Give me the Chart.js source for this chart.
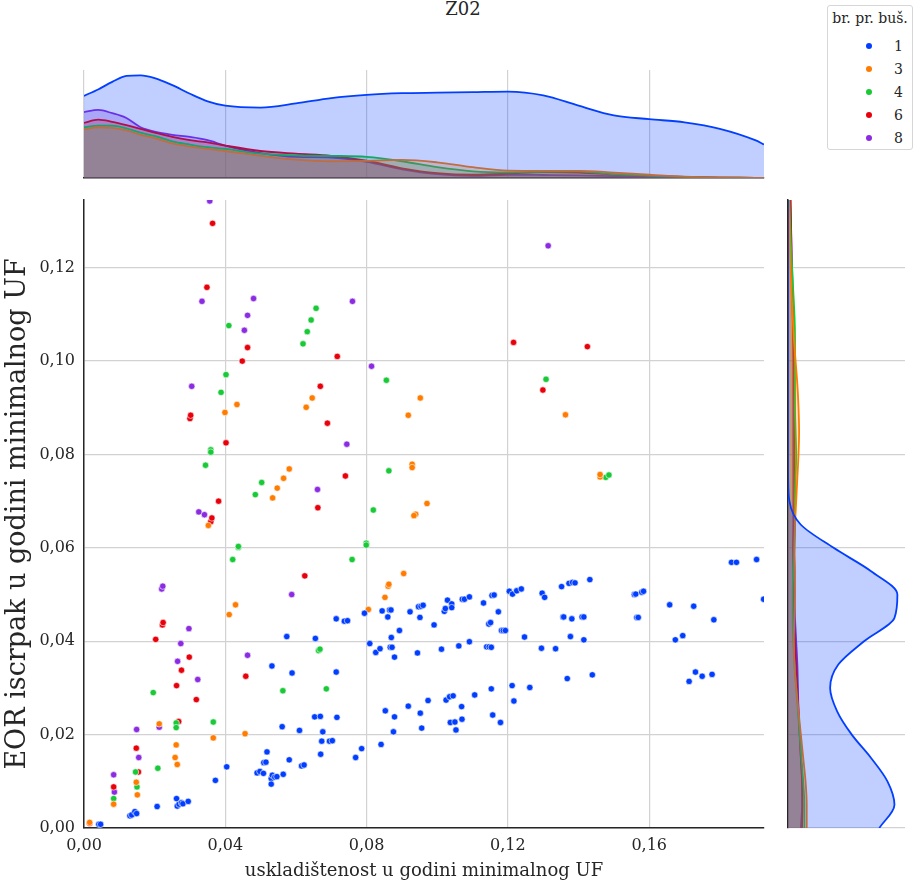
<!DOCTYPE html>
<html lang="hr">
<head>
<meta charset="UTF-8">
<title>Z02</title>
<script src="https://cdn.jsdelivr.net/npm/chart.js"></script>
<style>
  body { margin: 0; background: #fff; font-family: 'DejaVu Serif', serif; color: #262626; }
  .page { position: relative; width: 921px; height: 887px; overflow: hidden; }
  .box { position: absolute; }
  #title { position: absolute; left: 413px; width: 100px; top: 0; line-height: 18px; text-align: center; font-size: 18px; }
  .legend { position: absolute; left: 827px; top: 5px; width: 84px; height: 143px; border: 1px solid #d6d6d6; border-radius: 3px; background: #fff; font-size: 14px; }
  .legend .lt { position: absolute; left: 0; width: 84px; top: 4px; text-align: center; white-space: nowrap; }
  .legend .dot { position: absolute; width: 6px; height: 6px; border-radius: 50%; left: 38px; }
  .legend .lab { position: absolute; left: 66px; line-height: 16px; }
</style>
</head>
<body>
<div class="page">
  <div id="title">Z02</div>
  <div class="box" style="left:0;top:60px;width:775px;height:120px"><canvas id="topKde"></canvas></div>
  <div class="box" style="left:0;top:190px;width:775px;height:697px"><canvas id="main"></canvas></div>
  <div class="box" style="left:780px;top:190px;width:141px;height:697px"><canvas id="rightKde"></canvas></div>
  <div class="legend" id="legend"><div class="lt">br. pr. buš.</div></div>
</div>

<script>
  // --- podaci ---
  const groupNames = ['1', '3', '4', '6', '8'];
  const groupColors = ['#023eff', '#ff7c00', '#1ac938', '#e8000b', '#8b2be2'];

  // [uskladištenost, EOR iscrpak]
  const pts1 = [
    [0.0042,0.0008],[0.0047,0.0008],[0.0130,0.0026],[0.0135,0.0028],[0.0144,0.0035],[0.0149,0.0031],
    [0.0207,0.0046],[0.0262,0.0063],[0.0264,0.0047],[0.0269,0.0051],[0.0276,0.0054],[0.0280,0.0052],[0.0295,0.0057],
    [0.0372,0.0102],[0.0404,0.0131],[0.0490,0.0118],[0.0498,0.0121],[0.0508,0.0117],[0.0509,0.0140],[0.0515,0.0141],[0.0518,0.0163],
    [0.0530,0.0106],[0.0530,0.0094],[0.0533,0.0113],[0.0540,0.0109],[0.0546,0.0110],[0.0564,0.0115],
    [0.0581,0.0146],[0.0616,0.0133],[0.0623,0.0135],[0.0670,0.0158],[0.0673,0.0186],[0.0695,0.0186],[0.0703,0.0187],
    [0.0769,0.0151],[0.0786,0.0170],[0.0841,0.0179],[0.0561,0.0217],[0.0610,0.0209],[0.0676,0.0206],
    [0.0653,0.0238],[0.0669,0.0239],[0.0716,0.0237],[0.0876,0.0206],[0.0956,0.0214],[0.0952,0.0246],[0.0879,0.0238],
    [0.0853,0.0251],[0.0918,0.0261],[0.0974,0.0273],[0.1025,0.0274],[0.1035,0.0281],[0.1045,0.0283],[0.1069,0.0260],
    [0.1106,0.0285],[0.1153,0.0298],[0.1212,0.0305],[0.1217,0.0272],[0.1262,0.0301],[0.1368,0.0320],[0.1439,0.0328],
    [0.1037,0.0226],[0.1050,0.0227],[0.1070,0.0233],[0.1053,0.0210],[0.1157,0.0242],[0.1179,0.0226],
    [0.1713,0.0314],[0.1731,0.0334],[0.1750,0.0325],[0.1778,0.0329],[0.0532,0.0347],[0.0589,0.0332],[0.0714,0.0334],
    [0.0574,0.0410],[0.0655,0.0406],[0.0714,0.0448],[0.0737,0.0443],[0.0746,0.0444],[0.0794,0.0460],
    [0.0809,0.0395],[0.0826,0.0376],[0.0838,0.0384],[0.0867,0.0387],[0.0872,0.0387],[0.0879,0.0366],[0.0870,0.0408],
    [0.0893,0.0423],[0.0944,0.0375],[0.0844,0.0465],[0.0860,0.0452],[0.0865,0.0467],[0.0869,0.0467],[0.0923,0.0463],
    [0.0947,0.0474],[0.0954,0.0475],[0.0960,0.0477],[0.0951,0.0451],[0.0991,0.0435],[0.1012,0.0383],[0.1061,0.0390],
    [0.1091,0.0399],[0.1140,0.0388],[0.1147,0.0388],[0.1153,0.0387],[0.1020,0.0464],[0.1023,0.0470],[0.1029,0.0488],
    [0.1041,0.0480],[0.1041,0.0472],[0.1071,0.0490],[0.1077,0.0490],[0.1091,0.0495],[0.1131,0.0482],[0.1155,0.0498],
    [0.1161,0.0499],[0.1173,0.0463],[0.1146,0.0437],[0.1151,0.0440],[0.1182,0.0423],[0.1187,0.0423],[0.1193,0.0423],
    [0.1247,0.0409],[0.1204,0.0507],[0.1213,0.0501],[0.1225,0.0508],[0.1238,0.0512],[0.1295,0.0385],[0.1335,0.0384],
    [0.1297,0.0503],[0.1304,0.0494],[0.1352,0.0517],[0.1373,0.0524],[0.1383,0.0526],[0.1390,0.0525],[0.1432,0.0532],
    [0.1356,0.0452],[0.1358,0.0452],[0.1381,0.0448],[0.1410,0.0452],[0.1415,0.0452],[0.1377,0.0410],[0.1415,0.0403],
    [0.1558,0.0500],[0.1562,0.0501],[0.1579,0.0505],[0.1584,0.0507],[0.1565,0.0451],[0.1569,0.0451],
    [0.1658,0.0478],[0.1726,0.0475],[0.1783,0.0446],[0.1674,0.0403],[0.1695,0.0412],
    [0.1833,0.0569],[0.1847,0.0569],[0.1904,0.0575],[0.1924,0.0490]
  ];
  const pts3 = [
    [0.0016,0.0012],[0.0084,0.0051],[0.0148,0.0098],[0.0151,0.0071],[0.0213,0.0223],[0.0261,0.0178],[0.0258,0.0151],
    [0.0264,0.0136],[0.0366,0.0193],[0.0456,0.0202],[0.0411,0.0457],[0.0429,0.0478],[0.0352,0.0648],[0.0399,0.0890],
    [0.0433,0.0907],[0.0534,0.0707],[0.0547,0.0728],[0.0565,0.0749],[0.0581,0.0769],[0.0629,0.0901],[0.0646,0.0921],
    [0.0805,0.0468],[0.0852,0.0494],[0.0861,0.0518],[0.0863,0.0522],[0.0905,0.0545],[0.0918,0.0884],[0.0952,0.0921],
    [0.0929,0.0779],[0.0929,0.0772],[0.0971,0.0695],[0.0939,0.0672],[0.0934,0.0669],[0.1363,0.0885],[0.1461,0.0752],[0.1461,0.0757]
  ];
  const pts4 = [
    [0.0084,0.0063],[0.0150,0.0088],[0.0146,0.0120],[0.0209,0.0128],[0.0196,0.0290],[0.0261,0.0225],[0.0261,0.0215],
    [0.0366,0.0227],[0.0421,0.0575],[0.0437,0.0601],[0.0437,0.0603],[0.0344,0.0777],[0.0359,0.0810],[0.0359,0.0805],
    [0.0388,0.0933],[0.0402,0.0971],[0.0410,0.1076],[0.0485,0.0714],[0.0503,0.0740],[0.0563,0.0294],[0.0664,0.0380],
    [0.0668,0.0383],[0.0686,0.0298],[0.0620,0.1037],[0.0632,0.1063],[0.0643,0.1088],[0.0657,0.1113],[0.0759,0.0575],
    [0.0799,0.0610],[0.0799,0.0606],[0.0819,0.0681],[0.0863,0.0765],[0.0856,0.0959],[0.1308,0.0961],[0.1477,0.0751],[0.1486,0.0756]
  ];
  const pts6 = [
    [0.0016,0.0010],[0.0084,0.0088],[0.0154,0.0120],[0.0148,0.0171],[0.0268,0.0228],[0.0318,0.0275],[0.0262,0.0305],
    [0.0276,0.0338],[0.0298,0.0366],[0.0458,0.0325],[0.0203,0.0404],[0.0222,0.0435],[0.0224,0.0440],[0.0359,0.0656],
    [0.0362,0.0664],[0.0381,0.0700],[0.0402,0.0825],[0.0300,0.0877],[0.0302,0.0884],[0.0448,0.1000],[0.0463,0.1029],
    [0.0348,0.1158],[0.0364,0.1295],[0.0625,0.0540],[0.0662,0.0686],[0.0740,0.0754],[0.0689,0.0867],[0.0669,0.0946],
    [0.0717,0.1010],[0.1216,0.1040],[0.1425,0.1031],[0.1299,0.0938]
  ];
  const pts8 = [
    [0.0086,0.0077],[0.0084,0.0114],[0.0155,0.0151],[0.0149,0.0211],[0.0213,0.0216],[0.0322,0.0318],[0.0265,0.0357],
    [0.0463,0.0370],[0.0274,0.0395],[0.0297,0.0427],[0.0220,0.0512],[0.0223,0.0518],[0.0588,0.0500],[0.0325,0.0677],
    [0.0341,0.0671],[0.0661,0.0725],[0.0744,0.0822],[0.0305,0.0946],[0.0814,0.0989],[0.0454,0.1066],[0.0463,0.1098],
    [0.0334,0.1128],[0.0480,0.1134],[0.0760,0.1128],[0.0356,0.1343],[0.1314,0.1247]
  ];

  // gornja marginalna gustoća (relativna visina osi)
  const kdeX = [0, 0.004, 0.008, 0.012, 0.016, 0.02, 0.025, 0.03, 0.035, 0.04, 0.05, 0.06, 0.07, 0.08, 0.09,
                0.10, 0.11, 0.12, 0.13, 0.14, 0.15, 0.16, 0.17, 0.18, 0.19, 0.1925];
  const top1 = [0.76, 0.82, 0.89, 0.945, 0.95, 0.925, 0.86, 0.78, 0.71, 0.67, 0.652, 0.69, 0.74, 0.77, 0.785,
                0.79, 0.795, 0.80, 0.765, 0.67, 0.58, 0.545, 0.515, 0.455, 0.35, 0.31];
  const top3 = [0.45, 0.47, 0.465, 0.44, 0.40, 0.37, 0.32, 0.29, 0.27, 0.25, 0.205, 0.17, 0.155, 0.158, 0.168,
                0.145, 0.10, 0.068, 0.066, 0.066, 0.05, 0.03, 0.013, 0.005, 0.002, 0.001];
  const top4 = [0.47, 0.485, 0.485, 0.46, 0.42, 0.39, 0.34, 0.31, 0.285, 0.27, 0.225, 0.21, 0.205, 0.195, 0.155,
                0.10, 0.062, 0.052, 0.06, 0.062, 0.035, 0.02, 0.01, 0.004, 0.002, 0.001];
  const top6 = [0.51, 0.54, 0.52, 0.49, 0.455, 0.42, 0.38, 0.35, 0.33, 0.30, 0.25, 0.225, 0.205, 0.16, 0.09,
                0.045, 0.03, 0.04, 0.055, 0.05, 0.032, 0.02, 0.01, 0.004, 0.002, 0.001];
  const top8 = [0.61, 0.63, 0.60, 0.555, 0.47, 0.43, 0.40, 0.38, 0.35, 0.30, 0.23, 0.195, 0.19, 0.15, 0.08,
                0.035, 0.02, 0.03, 0.028, 0.025, 0.017, 0.01, 0.005, 0.002, 0.001, 0];

  // desna marginalna gustoća (relativna širina osi)
  const kdeY = [0, 0.005, 0.01, 0.015, 0.02, 0.025, 0.03, 0.035, 0.04, 0.045, 0.05, 0.055, 0.06, 0.065, 0.07,
                0.075, 0.08, 0.085, 0.09, 0.095, 0.10, 0.105, 0.11, 0.115, 0.12, 0.125, 0.13, 0.1345];
  const right1 = [0.78, 0.91, 0.85, 0.71, 0.545, 0.42, 0.36, 0.43, 0.65, 0.91, 0.935, 0.71, 0.39, 0.108, 0.012,
                  0.001, 0, 0, 0, 0, 0, 0, 0, 0, 0, 0, 0, 0];
  const right3 = [0.16, 0.16, 0.15, 0.13, 0.11, 0.09, 0.07, 0.055, 0.05, 0.055, 0.06, 0.06, 0.055, 0.06, 0.07,
                  0.08, 0.09, 0.095, 0.09, 0.08, 0.065, 0.05, 0.04, 0.03, 0.022, 0.015, 0.01, 0.006];
  const right4 = [0.14, 0.14, 0.13, 0.115, 0.10, 0.085, 0.07, 0.055, 0.045, 0.04, 0.04, 0.045, 0.055, 0.06, 0.06,
                  0.065, 0.07, 0.065, 0.06, 0.06, 0.06, 0.06, 0.055, 0.045, 0.035, 0.025, 0.018, 0.012];
  const right6 = [0.12, 0.125, 0.12, 0.11, 0.10, 0.09, 0.08, 0.07, 0.06, 0.05, 0.045, 0.045, 0.045, 0.05, 0.055,
                  0.055, 0.055, 0.055, 0.055, 0.05, 0.05, 0.045, 0.04, 0.035, 0.03, 0.028, 0.025, 0.022];
  const right8 = [0.11, 0.12, 0.12, 0.11, 0.10, 0.09, 0.085, 0.08, 0.07, 0.06, 0.055, 0.05, 0.045, 0.045, 0.045,
                  0.045, 0.045, 0.045, 0.045, 0.045, 0.045, 0.045, 0.045, 0.04, 0.035, 0.03, 0.025, 0.02];

  const X_MAX = 0.1925;
  const Y_MAX = 0.1345;

  const allPts = [pts1, pts3, pts4, pts6, pts8];
  const allTop = [top1, top3, top4, top6, top8];
  const allRight = [right1, right3, right4, right6, right8];

  // --- stil ---
  const serif = "'DejaVu Serif', serif";
  const ink = '#262626';
  const gridColor = '#d2d2d2';

  function rgba(hex, a) {
    const n = parseInt(hex.slice(1), 16);
    return `rgba(${(n >> 16) & 255}, ${(n >> 8) & 255}, ${n & 255}, ${a})`;
  }
  const fmt = v => v.toFixed(2).replace('.', ',');
  // rubovi crtanja određeni samo layout paddingom
  const noEdgePad = s => { s.paddingTop = 0; s.paddingBottom = 0; s.paddingLeft = 0; s.paddingRight = 0; };

  Chart.defaults.animation = false;
  Chart.defaults.responsive = true;
  Chart.defaults.maintainAspectRatio = false;
  Chart.defaults.plugins.legend.display = false;
  Chart.defaults.plugins.tooltip.enabled = false;

  // glavni dijagram raspršenja
  new Chart(document.getElementById('main'), {
    type: 'scatter',
    data: {
      datasets: allPts.map((pts, i) => ({
        label: groupNames[i],
        data: pts.map(p => ({ x: p[0], y: p[1] })),
        backgroundColor: groupColors[i],
        borderColor: '#ffffff',
        borderWidth: 0.6,
        pointRadius: 3.2,
        clip: 0
      }))
    },
    options: {
      layout: { padding: { left: 0, right: 11, top: 10, bottom: 0 } },
      scales: {
        x: {
          type: 'linear', min: 0, max: X_MAX,
          ticks: { stepSize: 0.04, includeBounds: false, callback: fmt, color: ink, padding: 8, maxRotation: 0,
                   font: { family: serif, size: 16 } },
          grid: { color: gridColor, lineWidth: 1.2, drawTicks: false },
          border: { display: true, color: ink, width: 1.5 },
          title: { display: true, text: 'uskladištenost u godini minimalnog UF', color: ink,
                   font: { family: serif, size: 18 }, padding: { top: 0, bottom: 5 } },
          afterFit: s => { noEdgePad(s); s.height = 59; }
        },
        y: {
          type: 'linear', min: 0, max: Y_MAX,
          ticks: { stepSize: 0.02, includeBounds: false, callback: fmt, color: ink, padding: 9,
                   font: { family: serif, size: 16 } },
          grid: { color: gridColor, lineWidth: 1.2, drawTicks: false },
          border: { display: true, color: ink, width: 1.5 },
          title: { display: true, text: 'EOR iscrpak u godini minimalnog UF', color: ink,
                   font: { family: serif, size: 27 }, padding: { top: 2, bottom: 0 } },
          afterFit: s => { noEdgePad(s); s.width = 84; }
        }
      }
    }
  });

  // gornja marginalna KDE
  new Chart(document.getElementById('topKde'), {
    type: 'line',
    data: {
      datasets: allTop.map((vals, i) => ({
        data: kdeX.map((x, k) => ({ x: x, y: vals[k] })),
        borderColor: groupColors[i],
        backgroundColor: rgba(groupColors[i], 0.25),
        borderWidth: 1.8,
        pointRadius: 0,
        fill: 'origin',
        cubicInterpolationMode: 'monotone'
      }))
    },
    options: {
      layout: { padding: { left: 84, right: 11, top: 10, bottom: 2 } },
      scales: {
        x: {
          type: 'linear', min: 0, max: X_MAX,
          ticks: { display: false, stepSize: 0.04, includeBounds: false },
          grid: { color: gridColor, lineWidth: 1.2, drawTicks: false },
          border: { display: true, color: ink, width: 1.5 },
          afterFit: s => { noEdgePad(s); s.height = 0; }
        },
        y: { type: 'linear', display: false, min: 0, max: 1 }
      }
    }
  });

  // desna marginalna KDE
  new Chart(document.getElementById('rightKde'), {
    type: 'line',
    data: {
      datasets: allRight.map((vals, i) => ({
        data: kdeY.map((y, k) => ({ x: vals[k], y: y })),
        borderColor: groupColors[i],
        backgroundColor: rgba(groupColors[i], 0.25),
        borderWidth: 1.8,
        pointRadius: 0,
        fill: 'origin',
        cubicInterpolationMode: 'monotone'
      }))
    },
    options: {
      indexAxis: 'y',
      layout: { padding: { left: 8, right: 16, top: 10, bottom: 59 } },
      scales: {
        x: { type: 'linear', display: false, min: 0, max: 1 },
        y: {
          type: 'linear', min: 0, max: Y_MAX,
          ticks: { display: false, stepSize: 0.02, includeBounds: false },
          grid: { color: gridColor, lineWidth: 1.2, drawTicks: false },
          border: { display: true, color: ink, width: 1.5 },
          afterFit: s => { noEdgePad(s); s.width = 0; }
        }
      }
    }
  });

  // legenda
  const legend = document.getElementById('legend');
  groupNames.forEach((name, i) => {
    const cy = 40 + i * 23;
    const dot = document.createElement('span');
    dot.className = 'dot';
    dot.style.background = groupColors[i];
    dot.style.top = (cy - 3) + 'px';
    const lab = document.createElement('span');
    lab.className = 'lab';
    lab.style.top = (cy - 8) + 'px';
    lab.textContent = name;
    legend.appendChild(dot);
    legend.appendChild(lab);
  });
</script>
</body>
</html>
